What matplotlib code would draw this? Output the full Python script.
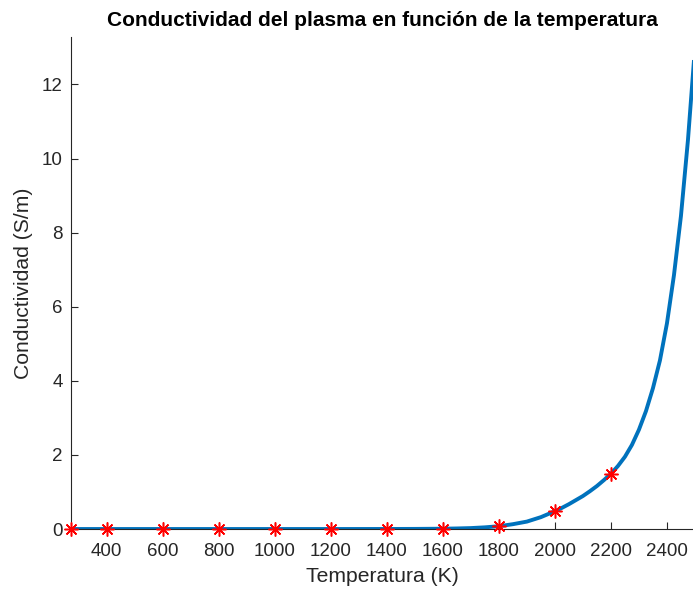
import matplotlib
matplotlib.use("Agg")
import matplotlib.pyplot as plt

plt.rcParams['font.family'] = ['Liberation Sans', 'DejaVu Sans']

# Curve
temp_curve = [273, 400, 600, 800, 1000, 1200, 1400, 1500, 1600, 1650, 1700,
              1750, 1800, 1850, 1900, 1950, 2000, 2025, 2050, 2075, 2100,
              2125, 2150, 2175, 2200, 2225, 2250, 2275, 2300, 2325, 2350,
              2375, 2400, 2425, 2450, 2475, 2500]
cond_curve = [0, 0, 0, 0, 0, 0, 0.001, 0.003, 0.008, 0.015, 0.025,
              0.045, 0.075, 0.13, 0.2, 0.32, 0.48, 0.57, 0.67, 0.78, 0.89,
              1.02, 1.16, 1.32, 1.49, 1.70, 1.95, 2.27, 2.68, 3.18, 3.80,
              4.55, 5.55, 6.85, 8.45, 10.5, 13.0]

# Marked points
temp_pts = [273, 400, 600, 800, 1000, 1200, 1400, 1600, 1800, 2000, 2200]
cond_pts = [0, 0, 0, 0, 0, 0, 0.001, 0.008, 0.075, 0.48, 1.49]

xticks = [400, 600, 800, 1000, 1200, 1400, 1600, 1800, 2000, 2200, 2400]
yticks = [0, 2, 4, 6, 8, 10, 12]

fig = plt.figure(figsize=(6.93, 5.92), dpi=100)
ax = fig.add_axes([0.1025, 0.1064, 0.8975, 0.8311])

ax.plot(temp_curve, cond_curve, color='#0072BD', lw=2.8, solid_capstyle='butt',
        solid_joinstyle='round', zorder=2)
ax.plot(temp_pts, cond_pts, linestyle='none', marker=(8, 2, 0), ms=10,
        mec='#FF0000', mew=1.1, color='#FF0000', zorder=3, clip_on=False)

ax.set_xlim(273, 2493)
ax.set_ylim(0, 13.28)
ax.set_xticks(xticks)
ax.set_yticks(yticks)
ax.tick_params(direction='in', length=5, width=0.8, colors='#262626',
               labelsize=13.5)
ax.tick_params(axis='x', pad=10)
ax.tick_params(axis='y', pad=6)
for s in ['top', 'right']:
    ax.spines[s].set_visible(False)
for s in ['left', 'bottom']:
    ax.spines[s].set_color('#262626')
    ax.spines[s].set_linewidth(0.8)

ax.set_xlabel('Temperatura (K)', fontsize=15.2, color='#262626', labelpad=5)
ax.set_ylabel('Conductividad (S/m)', fontsize=15.2, color='#262626', labelpad=6)
ax.set_title('Conductividad del plasma en función de la temperatura',
             fontsize=15, fontweight='bold', color='black', pad=8)

fig.savefig('out.png', dpi=100)
